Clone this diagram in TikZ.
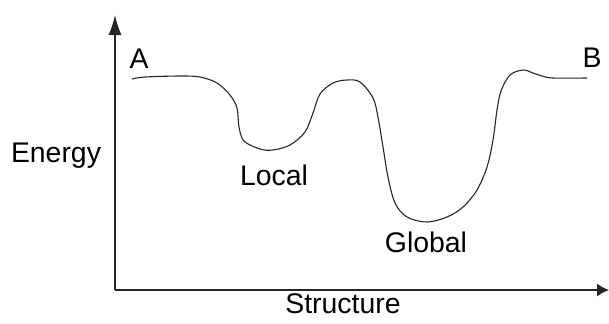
\documentclass[tikz,border=0pt]{standalone}
\usepackage{fontspec}
\setmainfont{Liberation Sans}
\usetikzlibrary{arrows.meta}

\tikzset{
  axis/.style={line width=0.65pt, draw=black!85},
  curve/.style={line width=0.55pt, draw=black!85},
  lbl/.style={inner sep=0pt, anchor=base, font=\fontsize{14.2}{16}\selectfont}
}

\begin{document}
\begin{tikzpicture}[x=0.5pt, y=-0.5pt]
        \useasboundingbox (0,0) rectangle (609,323);

        % Define the axis points
        \coordinate (O) at (115,290);
        \coordinate (Ymax) at (115,15);
        \coordinate (Xmax) at (609,290);

        % Draw axes
        \draw[axis, -{Latex[length=10pt,width=6.5pt]}] (O) -- (Ymax);
        \draw[axis, -{Latex[length=6pt,width=6.5pt]}] (O) -- (Xmax);

        % Energy landscape
        \draw[curve] plot[smooth, tension=0.55] coordinates {
          (132,79) (145,77) (180,76) (200,77) (217,83) (230,95) (237,108)
          (239,127) (244,141) (260,149) (273,150) (290,145) (305,132)
          (313,113) (320,94) (333,83) (347,80) (360,82) (373,98) (378,117)
          (383,147) (388,177) (395,203) (407,217) (427,222) (447,217)
          (463,207) (477,190) (487,167) (493,140) (497,110) (501,91)
          (510,75) (523,70) (533,73) (542,76) (553,78) (587,78)};

        % Labels
        \node[lbl] (A) at (139,68) {A};
        \node[lbl] (B) at (592,67) {B};
        \node[lbl] (energy) at (56,162) {Energy};
        \node[lbl] (local) at (274,185) {Local};
        \node[lbl] (global) at (426,252) {Global};
        \node[lbl] (structure) at (343,313) {Structure};
    \end{tikzpicture}
\end{document}
